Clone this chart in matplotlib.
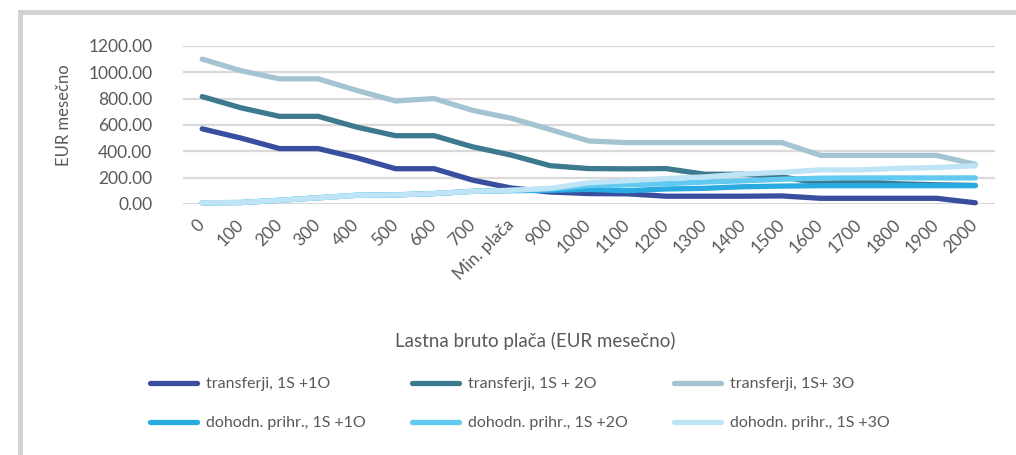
import numpy as np
import matplotlib.pyplot as plt
from matplotlib.lines import Line2D

plt.rcParams['font.family'] = ['Lato', 'DejaVu Sans']

# Data
categories = ['0', '100', '200', '300', '400', '500', '600', '700', 'Min. plača',
              '900', '1000', '1100', '1200', '1300', '1400', '1500', '1600',
              '1700', '1800', '1900', '2000']

transfer_1o = [570, 500, 420, 420, 350, 267, 267, 180, 120, 90, 78, 76, 58, 58, 58, 60,
               42, 42, 42, 42, 8]
transfer_2o = [815, 730, 665, 665, 583, 518, 518, 433, 370, 290, 268, 266, 268, 225, 225,
               205, 155, 170, 152, 145, 140]
transfer_3o = [1100, 1012, 950, 950, 862, 782, 800, 710, 650, 565, 478, 465, 465, 465,
               465, 465, 368, 368, 368, 368, 300]
income_1o = [8, 10, 27, 46, 65, 68, 78, 95, 100, 103, 110, 100, 113, 118, 130, 135,
             138, 138, 138, 138, 138]
income_2o = [8, 10, 27, 46, 65, 68, 78, 95, 103, 113, 139, 145, 153, 166, 175, 187,
             195, 197, 197, 197, 197]
income_3o = [8, 10, 27, 46, 65, 68, 78, 95, 103, 118, 160, 176, 192, 205, 226, 240,
             258, 258, 270, 276, 290]

series = [
    ('transferji, 1S +1O', transfer_1o, '#3a4ea0'),
    ('transferji, 1S + 2O', transfer_2o, '#3e7a8f'),
    ('transferji, 1S+ 3O', transfer_3o, '#a5c4d2'),
    ('dohodn. prihr., 1S +1O', income_1o, '#29abe2'),
    ('dohodn. prihr., 1S +2O', income_2o, '#62c9f1'),
    ('dohodn. prihr., 1S +3O', income_3o, '#bfe4f6'),
]

text_col = '#595959'

fig = plt.figure(figsize=(10.16, 4.55), dpi=100)
ax = fig.add_axes([0.180, 0.552, 0.799, 0.347])

x = np.arange(len(categories))
# income lines underneath, transfers on top
order = [3, 4, 5, 0, 1, 2]
for i in order:
    name, vals, col = series[i]
    ax.plot(x, vals, color=col, lw=3.8, solid_capstyle='round',
            solid_joinstyle='round', clip_on=False, zorder=3 + i * 0.1)

ax.set_xlim(-0.5, len(categories) - 0.5)
ax.set_ylim(0, 1200)
ax.set_yticks(np.arange(0, 1201, 200))
ax.set_yticklabels([f'{v:.2f}' for v in np.arange(0, 1201, 200)])
ax.set_xticks(x)
ax.set_xticklabels(categories, rotation=45, ha='right', va='center',
                   rotation_mode='anchor')
ax.tick_params(axis='both', length=0, labelsize=12.5, labelcolor=text_col)
ax.tick_params(axis='y', pad=22)
ax.tick_params(axis='x', pad=13)
ax.grid(axis='y', color='#d9d9d9', lw=1.6)
ax.set_axisbelow(True)
for s in ax.spines.values():
    s.set_visible(False)

fig.text(0.063, 0.748, 'EUR mesečno', rotation=90, ha='center', va='center',
         fontsize=12, color=text_col)
fig.text(0.527, 0.251, 'Lastna bruto plača (EUR mesečno)', ha='center', va='center',
         fontsize=13.5, color=text_col)

# legend filled column by column -> reorder so rows read transfers / income
leg_order = [0, 3, 1, 4, 2, 5]
leg_handles = [Line2D([], [], color=series[i][2], lw=3.8, solid_capstyle='round')
               for i in leg_order]
leg_labels = [series[i][0] for i in leg_order]
fig.legend(leg_handles, leg_labels, ncol=3, loc='upper left',
           bbox_to_anchor=(0.141, 0.185), frameon=False, fontsize=11.5,
           labelcolor=text_col, handlelength=2.94, handletextpad=0.56,
           columnspacing=2.9, labelspacing=1.55, borderaxespad=0)

# light grey frame (top and left edges only)
fig.add_artist(Line2D([0.0192, 1.0], [0.9747, 0.9747], color='#d2d2d2', lw=3.6,
                      transform=fig.transFigure))
fig.add_artist(Line2D([0.0192, 0.0192], [0.0, 0.9747], color='#d2d2d2', lw=3.6,
                      transform=fig.transFigure))

fig.savefig('out.png', dpi=100)
